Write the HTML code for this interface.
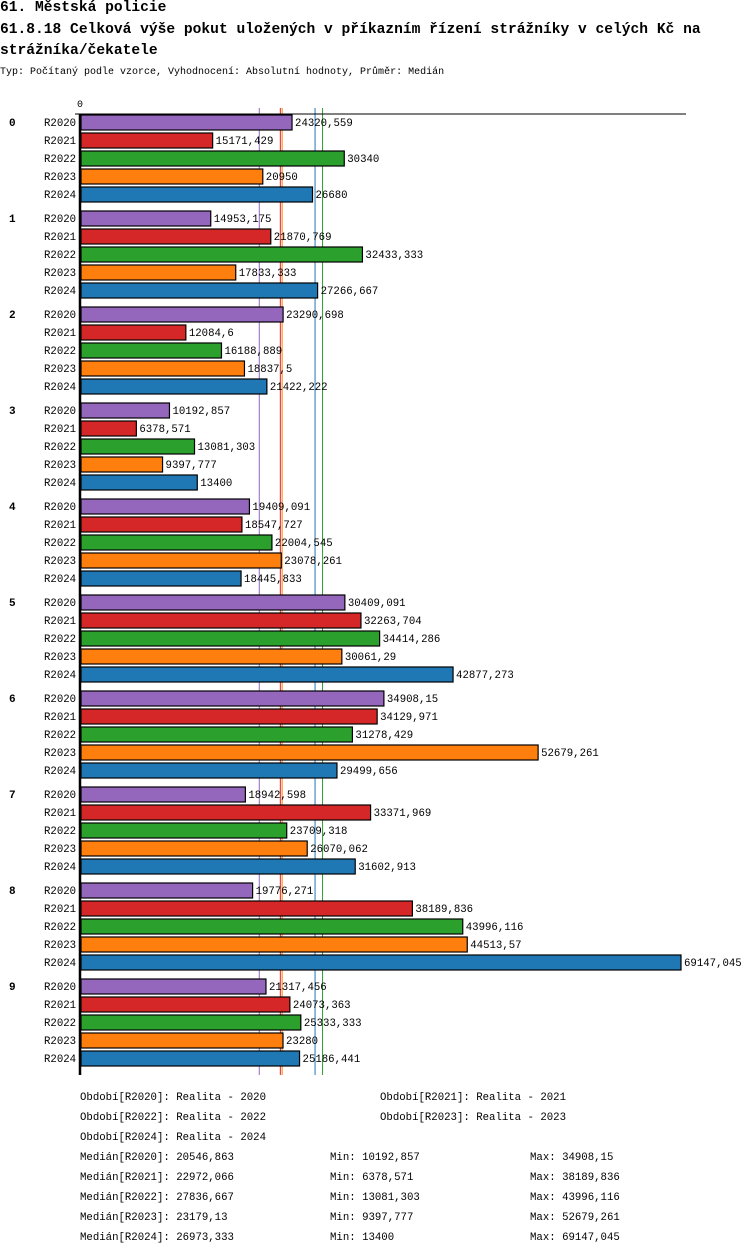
<!DOCTYPE html>
<html><head><meta charset="utf-8">
<style>
body{margin:0;width:750px;height:1254px;background:#fff;font-family:"Liberation Mono","DejaVu Sans Mono",monospace;color:#000;position:relative;overflow:hidden}
.t{position:absolute;white-space:nowrap}
.h{font-weight:bold;font-size:14.6px}
</style></head><body>
<div class="t h" style="left:0;top:0px">61. Městská policie</div>
<div class="t h" style="left:0;top:22px">61.8.18 Celková výše pokut uložených v příkazním řízení strážníky v celých Kč na</div>
<div class="t h" style="left:0;top:43px">strážníka/čekatele</div>
<div class="t" style="left:0;top:67px;font-size:10px">Typ: Počítaný podle vzorce, Vyhodnocení: Absolutní hodnoty, Průměr: Medián</div>
<svg id="c" width="750" height="1254" style="position:absolute;left:0;top:0"></svg>
<script>
const groups=["0","1","2","3","4","5","6","7","8","9"];
const series=["R2020","R2021","R2022","R2023","R2024"];
const colors=["#9467bd","#d62728","#2ca02c","#ff7f0e","#1f77b4"];
const v2020=[24320.559,14953.175,23290.698,10192.857,19409.091,30409.091,34908.15,18942.598,19776.271,21317.456];
const v2021=[15171.429,21870.769,12084.6,6378.571,18547.727,32263.704,34129.971,33371.969,38189.836,24073.363];
const v2022=[30340,32433.333,16188.889,13081.303,22004.545,34414.286,31278.429,23709.318,43996.116,25333.333];
const v2023=[20950,17833.333,18837.5,9397.777,23078.261,30061.29,52679.261,26070.062,44513.57,23280];
const v2024=[26680,27266.667,21422.222,13400,18445.833,42877.273,29499.656,31602.913,69147.045,25186.441];
const labels2020=["24320,559","14953,175","23290,698","10192,857","19409,091","30409,091","34908,15","18942,598","19776,271","21317,456"];
const labels2021=["15171,429","21870,769","12084,6","6378,571","18547,727","32263,704","34129,971","33371,969","38189,836","24073,363"];
const labels2022=["30340","32433,333","16188,889","13081,303","22004,545","34414,286","31278,429","23709,318","43996,116","25333,333"];
const labels2023=["20950","17833,333","18837,5","9397,777","23078,261","30061,29","52679,261","26070,062","44513,57","23280"];
const labels2024=["26680","27266,667","21422,222","13400","18445,833","42877,273","29499,656","31602,913","69147,045","25186,441"];
const medians=[20546.863,22972.066,27836.667,23179.13,26973.333];
const mins=["10192,857","6378,571","13081,303","9397,777","13400"];
const maxs=["34908,15","38189,836","43996,116","52679,261","69147,045"];
const medLabels=["20546,863","22972,066","27836,667","23179,13","26973,333"];
const vals=[v2020,v2021,v2022,v2023,v2024];
const labs=[labels2020,labels2021,labels2022,labels2023,labels2024];
const svg=document.getElementById('c');
const NS="http://www.w3.org/2000/svg";
const x0=81, scale=600/69147.045;
const X=v=>x0+v*scale;
const Y=(g,s)=>122+g*96+s*18;
function mk(tag,a,txt){const e=document.createElementNS(NS,tag);for(const k in a)e.setAttribute(k,a[k]);if(txt!=null)e.textContent=txt;svg.appendChild(e);return e;}
medians.forEach((m,i)=>{
 const l=mk('line',{x1:X(m),x2:X(m),y1:108,y2:1075,stroke:colors[i],'stroke-width':1});
 
 
});
groups.forEach((g,gi)=>{
 const gl=mk('text',{x:9,y:Y(gi,0)+4,'font-size':11,'font-weight':'bold','font-family':'Liberation Mono,monospace'},g);
 
 
 series.forEach((s,si)=>{
  const y=Y(gi,si);
  const sl=mk('text',{x:44,y:y+4,'font-size':10.7,'font-family':'Liberation Mono,monospace'},s);
  
  
  const v=vals[si][gi];
  const r=mk('rect',{x:x0,y:y-7,width:X(v)-x0,height:15,fill:colors[si],stroke:'#000','stroke-width':1.2});
  
  
  const vl=mk('text',{x:X(v)+3,y:y+4,'font-size':10.7,'font-family':'Liberation Mono,monospace'},labs[si][gi]);
  
  
 });
});
const ax=mk('line',{x1:75,x2:686,y1:114,y2:114,stroke:'#000','stroke-width':1});


const ay=mk('line',{x1:80,x2:80,y1:114,y2:1075,stroke:'#000','stroke-width':2.5});


const zl=mk('text',{x:77,y:107,'font-size':10,'font-family':'Liberation Mono,monospace'},'0');


const leg=[["Období[R2020]: Realita - 2020",80,1100],["Období[R2021]: Realita - 2021",380,1100],["Období[R2022]: Realita - 2022",80,1120],["Období[R2023]: Realita - 2023",380,1120],["Období[R2024]: Realita - 2024",80,1140]];
leg.forEach(l=>{
 const t=mk('text',{x:l[1],y:l[2],'font-size':10.7,'font-family':'Liberation Mono,monospace'},l[0]);
 
 
});
series.forEach((s,i)=>{
 const y=1160+i*20;
 const a=mk('text',{x:80,y:y,'font-size':10.7,'font-family':'Liberation Mono,monospace'},'Medián['+s+']: '+medLabels[i]);
 
 
 const b=mk('text',{x:330,y:y,'font-size':10.7,'font-family':'Liberation Mono,monospace'},'Min: '+mins[i]);
 
 
 const c=mk('text',{x:530,y:y,'font-size':10.7,'font-family':'Liberation Mono,monospace'},'Max: '+maxs[i]);
 
 
});
</script>
</body></html>
